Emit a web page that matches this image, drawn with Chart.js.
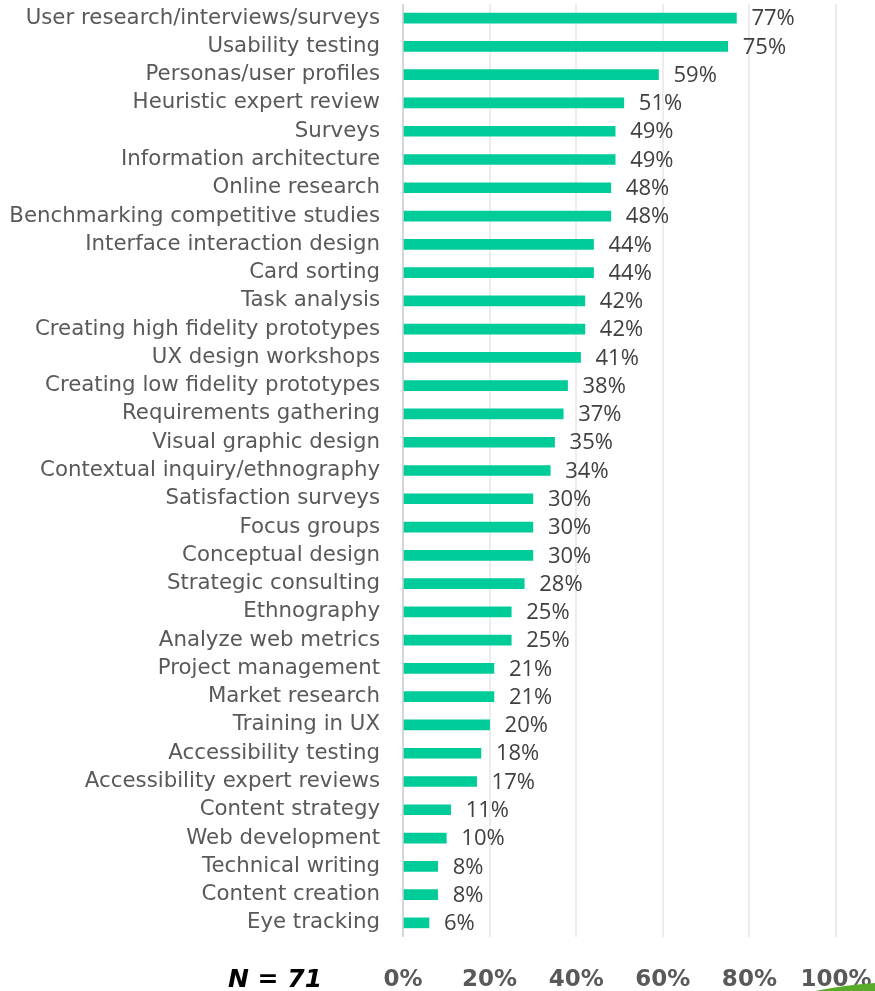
<!DOCTYPE html>
<html>
<head>
<meta charset="utf-8">
<script src="https://cdn.jsdelivr.net/npm/chart.js@4.4.0/dist/chart.umd.min.js"></script>
<style>
  body { margin: 0; background: #fff; }
  #wrap { width: 875px; height: 991px; position: relative; }
</style>
</head>
<body>
<div id="wrap"><canvas id="methods"></canvas></div>
<script>
const methods = [
  "User research/interviews/surveys", "Usability testing", "Personas/user profiles",
  "Heuristic expert review", "Surveys", "Information architecture", "Online research",
  "Benchmarking competitive studies", "Interface interaction design", "Card sorting",
  "Task analysis", "Creating high fidelity prototypes", "UX design workshops",
  "Creating low fidelity prototypes", "Requirements gathering", "Visual graphic design",
  "Contextual inquiry/ethnography", "Satisfaction surveys", "Focus groups",
  "Conceptual design", "Strategic consulting", "Ethnography", "Analyze web metrics",
  "Project management", "Market research", "Training in UX", "Accessibility testing",
  "Accessibility expert reviews", "Content strategy", "Web development",
  "Technical writing", "Content creation", "Eye tracking"
];
const percents = [77, 75, 59, 51, 49, 49, 48, 48, 44, 44, 42, 42, 41, 38, 37, 35, 34,
  30, 30, 30, 28, 25, 25, 21, 21, 20, 18, 17, 11, 10, 8, 8, 6];
const sampleNote = "N = 71";

// value labels at the end of each bar
const valueLabels = {
  id: "valueLabels",
  afterDatasetsDraw(chart) {
    var ctx = chart.ctx;
    var meta = chart.getDatasetMeta(0);
    ctx.save();
    ctx.font = "22px 'Open Sans'";
    ctx.fillStyle = "#404040";
    ctx.textAlign = "left";
    ctx.textBaseline = "middle";
    meta.data.forEach(function(bar, i) {
      ctx.fillText(percents[i] + "%", bar.x + 15, bar.y + 1);
    });
    ctx.restore();
  }
};

// "N = 71" note and the green swoosh in the corner
const extras = {
  id: "extras",
  afterDraw(chart) {
    var ctx = chart.ctx;
    ctx.save();
    ctx.font = "italic bold 25px 'DejaVu Sans'";
    ctx.fillStyle = "#000";
    ctx.textAlign = "center";
    ctx.textBaseline = "alphabetic";
    ctx.fillText(sampleNote, 275, 987);
    ctx.fillStyle = "#5aab2a";
    ctx.beginPath();
    ctx.moveTo(815, 991);
    ctx.quadraticCurveTo(845, 985, 875, 983);
    ctx.lineTo(875, 991);
    ctx.closePath();
    ctx.fill();
    ctx.restore();
  }
};

new Chart(document.getElementById("methods"), {
  type: "bar",
  data: {
    labels: methods,
    datasets: [{
      data: percents,
      backgroundColor: "#00cc99",
      barThickness: 10
    }]
  },
  options: {
    indexAxis: "y",
    responsive: true,
    maintainAspectRatio: false,
    animation: false,
    layout: { padding: { top: 4, right: 39, left: 0, bottom: 0 } },
    plugins: { legend: { display: false }, tooltip: { enabled: false } },
    scales: {
      x: {
        min: 0,
        max: 100,
        afterFit: function(scale) {
          scale.height = 54;
          scale.paddingLeft = 0;
          scale.paddingRight = 0;
        },
        border: { display: false },
        grid: {
          drawTicks: false,
          lineWidth: 2,
          color: function(c) { return c.tick && c.tick.value === 0 ? "#d6d6d6" : "#ececec"; }
        },
        ticks: {
          stepSize: 20,
          padding: 29,
          color: "#595959",
          font: { family: "DejaVu Sans", size: 23, weight: "bold" },
          callback: function(v) { return v + "%"; }
        }
      },
      y: {
        afterFit: function(scale) {
          scale.width = 403;
          scale.paddingTop = 0;
          scale.paddingBottom = 0;
        },
        border: { display: false },
        grid: { display: false, drawTicks: false },
        ticks: {
          autoSkip: false,
          padding: 23,
          color: "#595959",
          font: { family: "DejaVu Sans", size: 21.3 }
        }
      }
    }
  },
  plugins: [valueLabels, extras]
});
</script>
</body>
</html>
